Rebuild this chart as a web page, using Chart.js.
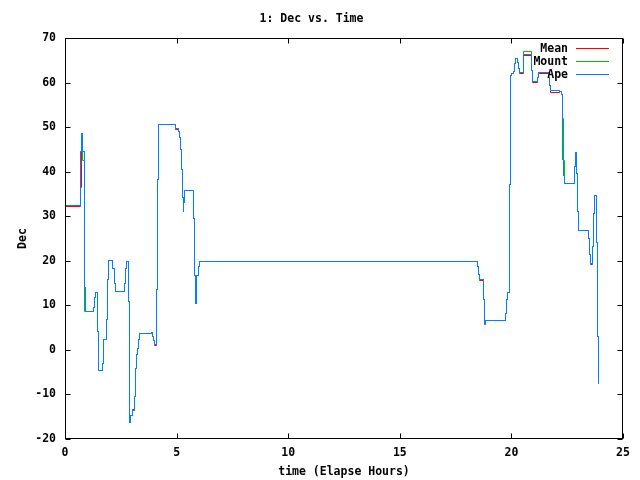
<!DOCTYPE html>
<html><head><meta charset="utf-8">
<script src="https://cdn.jsdelivr.net/npm/chart.js@4"></script>
<style>html,body{margin:0;padding:0;background:#fff}</style>
</head><body>
<canvas id="c" width="640" height="480"></canvas>
<script>
// elapsed hours (step starts)
const hours = [
  0.00,0.69,0.76,0.80,0.87,0.89,0.92,1.27,1.32,1.36,
  1.45,1.49,1.67,1.72,1.85,1.91,1.94,2.15,2.21,2.27,
  2.66,2.72,2.76,2.84,2.88,2.91,2.94,3.02,3.10,3.15,
  3.19,3.24,3.28,3.33,3.87,3.93,3.97,4.02,4.11,4.14,
  4.18,4.96,5.08,5.12,5.17,5.21,5.26,5.30,5.33,5.35,
  5.75,5.79,5.84,5.87,5.91,5.96,6.02,18.47,18.52,18.56,
  18.74,18.79,18.83,19.72,19.77,19.81,19.90,19.95,20.00,20.09,
  20.14,20.20,20.29,20.33,20.38,20.52,20.55,20.89,20.95,21.18,
  21.22,21.65,21.71,21.77,22.16,22.25,22.28,22.33,22.40,22.81,
  22.86,22.90,22.96,23.00,23.45,23.50,23.54,23.63,23.68,23.72,
  23.80,23.84,23.89
];
const meanDec = [
  32.1,36.4,48.6,44.5,30.0,14.0,8.7,9.6,11.8,12.9,
  4.2,-4.7,-3.0,2.3,6.8,15.7,20.1,18.3,14.9,13.2,
  14.9,18.3,19.9,10.8,-7.3,-16.4,-14.7,-13.3,-10.5,-4.2,
  -1.0,0.3,2.3,3.6,4.0,3.1,2.0,1.0,13.6,38.2,
  50.6,49.4,49.1,47.6,45.0,40.5,34.2,31.1,33.0,35.8,
  29.6,16.8,10.4,14.0,16.6,18.7,19.9,18.8,17.0,15.6,
  11.2,5.8,6.7,8.2,11.3,12.8,37.1,61.5,62.1,62.4,
  64.3,65.3,64.6,63.1,62.0,64.3,66.0,62.7,60.0,61.1,
  62.0,61.2,59.3,57.8,57.9,57.4,42.7,39.2,37.3,41.2,
  44.4,39.7,31.1,26.7,24.9,21.5,19.2,23.2,30.7,34.6,
  24.0,3.1,-7.5
];
const mountDec = [
  32.3,44.5,48.6,42.5,37.0,8.7,8.7,9.6,11.8,12.9,
  4.2,-4.7,-3.0,2.3,6.8,15.7,20.1,18.3,14.9,13.2,
  14.9,18.3,19.9,10.8,-7.3,-16.4,-14.7,-13.5,-10.5,-4.2,
  -1.0,0.3,2.3,3.6,4.0,3.1,2.0,1.2,13.6,38.2,
  50.6,49.8,49.1,47.6,45.0,40.5,34.2,31.1,33.0,35.8,
  29.6,16.8,10.4,14.0,16.6,18.7,19.9,18.8,17.0,15.9,
  11.2,6.0,6.7,8.2,11.3,12.8,37.1,61.5,62.1,62.4,
  64.3,65.3,64.6,63.1,62.3,64.3,66.9,62.7,60.2,61.1,
  62.3,61.2,59.3,58.3,57.9,57.4,52.0,42.5,37.3,41.2,
  44.4,39.7,31.1,26.7,24.9,21.5,19.4,23.2,30.7,34.6,
  24.0,3.1,-7.5
];
const apeDec = [
  32.3,44.5,48.6,44.5,30.0,14.0,8.7,9.6,11.8,12.9,
  4.2,-4.7,-3.0,2.3,6.8,15.7,20.1,18.3,14.9,13.2,
  14.9,18.3,19.9,10.8,-7.3,-16.4,-14.7,-13.5,-10.5,-4.2,
  -1.0,0.3,2.3,3.6,4.0,3.1,2.0,1.2,13.6,38.2,
  50.6,49.8,49.1,47.6,45.0,40.5,34.2,31.1,33.0,35.8,
  29.6,16.8,10.4,14.0,16.6,18.7,19.9,18.8,17.0,15.9,
  11.2,6.0,6.7,8.2,11.3,12.8,37.1,61.5,62.1,62.4,
  64.3,65.3,64.6,63.1,62.3,64.3,66.4,62.7,60.2,61.1,
  62.3,61.2,59.3,58.3,57.9,57.4,42.7,39.2,37.3,41.2,
  44.4,39.7,31.1,26.7,24.9,21.5,19.4,23.2,30.7,34.6,
  24.0,3.1,-7.5
];
const seriesNames = ['Mean','Mount','Ape'];
const seriesColors = ['#ff0000','#00c000','#0080ff'];
const xRange = [0,25], xStep = 5;
const yRange = [-20,70], yStep = 10;
const titleText = '1: Dec vs. Time';
const xTitle = 'time (Elapse Hours)';
const yTitle = 'Dec';

const FAM = '"DejaVu Sans Mono","Liberation Mono",monospace';
const FONT = {family: FAM, size: 11.5, weight: 'bold'};
function pts(v){ return hours.map((h,i)=>({x:h, y:v[i]})); }
const seriesVals = [meanDec, mountDec, apeDec];

// snap computed line vertices to pixel centres for crisp gnuplot-like steps
const snapPlugin = {
  id: 'snap',
  beforeDatasetsDraw(chart){
    chart.data.datasets.forEach((d, i) => {
      const meta = chart.getDatasetMeta(i);
      meta.data.forEach(el => {
        el.x = Math.round(el.x - 0.5) + 0.5;
        el.y = Math.round(el.y - 0.5) + 0.5;
      });
    });
  }
};

const framePlugin = {
  id: 'frame',
  afterDatasetsDraw(chart){
    const {ctx, chartArea:a, scales:{x, y}} = chart;
    ctx.save();
    ctx.strokeStyle = '#000'; ctx.lineWidth = 1;
    const L = Math.round(a.left)+0.5, R = Math.round(a.right)-0.5;
    const T = Math.round(a.top)+0.5, B = Math.round(a.bottom)-0.5;
    ctx.strokeRect(L, T, R-L, B-T);
    ctx.beginPath();
    x.ticks.forEach(t => {
      const px = Math.round(x.getPixelForValue(t.value))+0.5;
      ctx.moveTo(px, B); ctx.lineTo(px, B-5);
      ctx.moveTo(px, T); ctx.lineTo(px, T+5);
    });
    y.ticks.forEach(t => {
      const py = Math.round(y.getPixelForValue(t.value))+0.5;
      ctx.moveTo(L, py); ctx.lineTo(L+5, py);
      ctx.moveTo(R, py); ctx.lineTo(R-5, py);
    });
    ctx.stroke();
    // legend (gnuplot style: text right-aligned, sample line on the right)
    ctx.font = 'bold 11.5px ' + FAM;
    ctx.textAlign = 'right'; ctx.textBaseline = 'middle';
    seriesNames.forEach((n, i) => {
      const yy = 48.5 + i*13;
      ctx.fillStyle = '#000';
      ctx.fillText(n, 568, yy + 0.5);
      ctx.strokeStyle = seriesColors[i];
      ctx.beginPath(); ctx.moveTo(576, yy); ctx.lineTo(609, yy); ctx.stroke();
    });
    ctx.restore();
  }
};

new Chart(document.getElementById('c'), {
  type: 'line',
  data: {
    datasets: seriesNames.map((n, i) => ({
      label: n,
      data: pts(seriesVals[i]),
      borderColor: seriesColors[i],
      backgroundColor: seriesColors[i],
      borderWidth: 1,
      pointRadius: 0,
      stepped: true,
      fill: false,
      order: 3 - i
    }))
  },
  options: {
    responsive: false,
    animation: false,
    devicePixelRatio: 1,
    layout: {padding: {left: 0, right: 17, top: 0, bottom: 0}},
    plugins: {
      legend: {display: false},
      tooltip: {enabled: false},
      title: {display: true, text: titleText, color: '#000', font: FONT,
              padding: {top: 12, bottom: 12.2}}
    },
    scales: {
      x: {
        type: 'linear', min: xRange[0], max: xRange[1],
        grid: {display: false, drawTicks: false},
        border: {display: false},
        ticks: {stepSize: xStep, color: '#000', font: FONT, padding: 7, maxRotation: 0},
        title: {display: true, text: xTitle, color: '#000', font: FONT, padding: {top: 0, bottom: 1}},
        afterFit(s){ s.height = 41; }
      },
      y: {
        type: 'linear', min: yRange[0], max: yRange[1],
        grid: {display: false, drawTicks: false},
        border: {display: false},
        ticks: {stepSize: yStep, color: '#000', font: FONT, padding: 9},
        title: {display: true, text: yTitle, color: '#000', font: FONT, padding: {top: 16.4, bottom: 0}},
        afterFit(s){ s.width = 65; }
      }
    }
  },
  plugins: [snapPlugin, framePlugin]
});
</script>
</body></html>
